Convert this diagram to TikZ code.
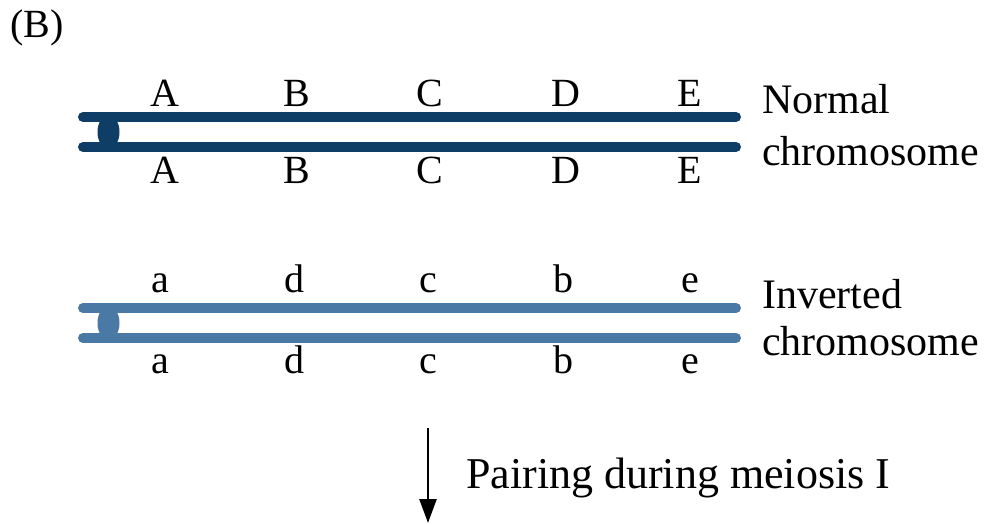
\documentclass[tikz,border=0pt]{standalone}
\usepackage{fontspec}
\setmainfont{Liberation Serif}
\usetikzlibrary{arrows.meta}
\definecolor{normblue}{HTML}{0E3E66}
\definecolor{invblue}{HTML}{4A79A6}
\tikzset{
  strand/.style={line width=10pt, line cap=round},
  gene/.style={font=\fontsize{40}{40}\selectfont, inner sep=0pt, anchor=base},
  caption/.style={font=\fontsize{42}{42}\selectfont, anchor=base west, inner sep=0pt},
}
\begin{document}
\begin{tikzpicture}[x=1pt,y=-1pt]
\useasboundingbox (0,0) rectangle (989,525);
\node[anchor=base west, font=\fontsize{40}{40}\selectfont, inner sep=0pt] (panel) at (10,37) {(B)};

% normal chromosome
\coordinate (n1l) at (83,117); \coordinate (n1r) at (736,117);
\coordinate (n2l) at (83,147); \coordinate (n2r) at (736,147);
\draw[strand, normblue] (n1l) -- (n1r);
\draw[strand, normblue] (n2l) -- (n2r);
\fill[normblue] (108.5,132) ellipse (11pt and 17pt);
\foreach \l/\x in {A/165,B/297,C/430,D/566,E/690}{
  \node[gene] (nt\l) at (\x,106) {\l};
  \node[gene] (nb\l) at (\x,183) {\l};
}
\node[caption] (ncap1) at (762,113) {Normal};
\node[caption] (ncap2) at (762,165) {chromosome};

% inverted chromosome
\coordinate (i1l) at (83,308); \coordinate (i1r) at (736,308);
\coordinate (i2l) at (83,338); \coordinate (i2r) at (736,338);
\draw[strand, invblue] (i1l) -- (i1r);
\draw[strand, invblue] (i2l) -- (i2r);
\fill[invblue] (108.5,323) ellipse (11pt and 17pt);
\foreach \l/\x in {a/160,d/294,c/428,b/563,e/690}{
  \node[gene] (it\l) at (\x,292) {\l};
  \node[gene] (ib\l) at (\x,373) {\l};
}
\node[caption] (icap1) at (762,308) {Inverted};
\node[caption] (icap2) at (762,355) {chromosome};

% pairing arrow
\coordinate (atop) at (428,428); \coordinate (abot) at (428,523);
\draw[line width=2.5pt, -{Triangle[length=24pt,width=17pt]}] (atop) -- (abot);
\node[caption, font=\fontsize{44}{44}\selectfont] (pair) at (466,488) {Pairing during meiosis I};
\end{tikzpicture}
\end{document}
